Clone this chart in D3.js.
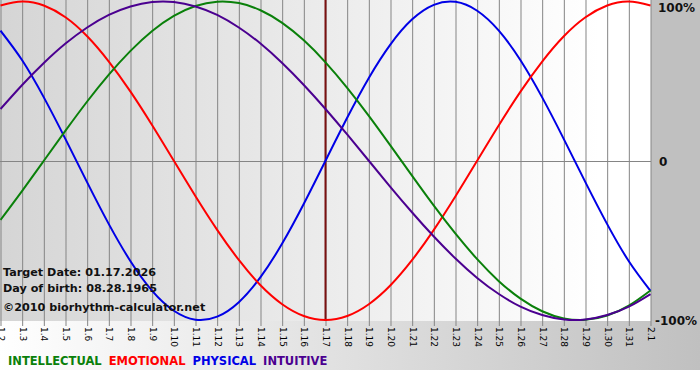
<!DOCTYPE html>
<html lang="en">
<head>
<meta charset="UTF-8">
<title>Biorhythm</title>
<script src="https://cdn.jsdelivr.net/npm/d3@7"></script>
<style>
  body { margin: 0; background: #fff; }
  svg { display: block; font-family: "DejaVu Sans", Verdana, sans-serif; }
</style>
</head>
<body>
<script>
// days shown (month.day)
var days = ["1.2","1.3","1.4","1.5","1.6","1.7","1.8","1.9","1.10","1.11","1.12","1.13","1.14","1.15","1.16",
            "1.17","1.18","1.19","1.20","1.21","1.22","1.23","1.24","1.25","1.26","1.27","1.28","1.29","1.30","1.31","2.1"];

// cycle values, one per day (-1 .. 1)
var intellectual = [-0.372,-0.189,0,0.189,0.372,0.541,0.690,0.815,0.910,0.972,0.999,0.990,0.945,0.866,0.756,
                    0.618,0.458,0.282,0.095,-0.095,-0.282,-0.458,-0.618,-0.756,-0.866,-0.945,-0.990,-0.999,-0.972,-0.910,-0.815];
var emotional = [0.975,1,0.975,0.901,0.782,0.623,0.434,0.223,0,-0.223,-0.434,-0.623,-0.782,-0.901,-0.975,
                 -1,-0.975,-0.901,-0.782,-0.623,-0.434,-0.223,0,0.223,0.434,0.623,0.782,0.901,0.975,1,0.975];
var physical = [0.817,0.631,0.398,0.136,-0.136,-0.398,-0.631,-0.817,-0.942,-0.998,-0.979,-0.888,-0.731,-0.520,-0.270,
                0,0.270,0.520,0.731,0.888,0.979,0.998,0.942,0.817,0.631,0.398,0.136,-0.136,-0.398,-0.631,-0.817];
var intuitive = [0.325,0.476,0.614,0.736,0.837,0.916,0.969,0.997,0.997,0.969,0.916,0.837,0.736,0.614,0.476,
                 0.325,0.165,0,-0.165,-0.325,-0.476,-0.614,-0.736,-0.837,-0.916,-0.969,-0.997,-0.997,-0.969,-0.916,-0.837];

var seriesNames = ["INTELLECTUAL","EMOTIONAL","PHYSICAL","INTUITIVE"];
var yTicks = [1, 0, -1];
var yTickLabels = ["100%", "0", "-100%"];
var targetDay = "1.17";
var infoLines = ["Target Date: 01.17.2026", "Day of birth: 08.28.1965", "\u00a92010 biorhythm-calculator.net"];

var ancho = 700, alto = 380;
var plotW = 651, plotH = 321;
var colores = {INTELLECTUAL: "#0a800a", EMOTIONAL: "#ff0000", PHYSICAL: "#0000e6", INTUITIVE: "#4b0090"};
var valores = {INTELLECTUAL: intellectual, EMOTIONAL: emotional, PHYSICAL: physical, INTUITIVE: intuitive};

var svg = d3.select("body").append("svg")
    .attr("width", ancho).attr("height", alto);

var defs = svg.append("defs");
var gPlot = defs.append("linearGradient").attr("id", "gPlot");
gPlot.append("stop").attr("offset", "0%").attr("stop-color", "#d5d5d5");
gPlot.append("stop").attr("offset", "92%").attr("stop-color", "#ffffff");
var gBottom = defs.append("linearGradient").attr("id", "gBottom");
gBottom.append("stop").attr("offset", "0%").attr("stop-color", "#ffffff");
gBottom.append("stop").attr("offset", "100%").attr("stop-color", "#c0c0c0");

// backgrounds
svg.append("rect").attr("x", 0).attr("y", plotH).attr("width", ancho).attr("height", 49).attr("fill", "url(#gBottom)");
svg.append("rect").attr("x", plotW).attr("y", 0).attr("width", ancho - plotW).attr("height", plotH).attr("fill", "#c0c0c0");
svg.append("rect").attr("x", 0).attr("y", 0).attr("width", plotW).attr("height", plotH).attr("fill", "url(#gPlot)");

var x = d3.scaleLinear().domain([0, days.length - 1]).range([0.5, plotW - 0.5]);
var y = d3.scaleLinear().domain([-1, 1]).range([320, 1.5]);

// vertical grid + ticks
var ejeX = d3.axisBottom(x)
    .tickValues(d3.range(days.length))
    .tickFormat(function(i) { return days[i]; })
    .tickSize(plotH + 5)
    .tickSizeOuter(0);
var gx = svg.append("g").call(ejeX);
gx.select(".domain").remove();
gx.selectAll(".tick line").attr("stroke", "#858585");
gx.selectAll(".tick text")
    .attr("transform", function() { return "translate(0," + (plotH + 6) + ") rotate(90)"; })
    .attr("x", 0).attr("y", 0).attr("dy", "0.35em")
    .attr("text-anchor", "start")
    .attr("font-size", 9)
    .attr("font-family", "DejaVu Sans, sans-serif")
    .attr("fill", "#000");

// zero line
svg.append("line").attr("x1", 0).attr("x2", plotW).attr("y1", Math.round(y(0)) + 0.5).attr("y2", Math.round(y(0)) + 0.5)
    .attr("stroke", "#858585");

// right labels
svg.selectAll(".ylab").data(yTicks).enter().append("text")
    .attr("x", function(d) { return d === 0 ? 659 : (d > 0 ? 658 : 655); })
    .attr("y", function(d) { return y(d); })
    .attr("dy", function(d) { return d > 0 ? "0.85em" : "0.4em"; })
    .attr("font-size", 12).attr("font-weight", "bold").attr("fill", "#111")
    .text(function(d, i) { return yTickLabels[i]; });

// target day line
var ti = days.indexOf(targetDay);
svg.append("line").attr("x1", x(ti)).attr("x2", x(ti)).attr("y1", 0).attr("y2", plotH)
    .attr("stroke", "#7a1010").attr("stroke-width", 2);

// curves
var linea = d3.line()
    .x(function(d, i) { return x(i); })
    .y(function(d) { return y(d); })
    .curve(d3.curveNatural);
["PHYSICAL", "EMOTIONAL", "INTELLECTUAL", "INTUITIVE"].forEach(function(n) {
  svg.append("path").datum(valores[n])
    .attr("d", linea)
    .attr("fill", "none")
    .attr("stroke", colores[n])
    .attr("stroke-width", 2);
});

// info text
svg.selectAll(".info").data(infoLines).enter().append("text")
    .attr("x", 3)
    .attr("y", function(d, i) { return [276, 292, 311][i]; })
    .attr("font-size", 11.2).attr("font-weight", "bold").attr("fill", "#111")
    .text(function(d) { return d; });

// legend
var leyenda = svg.append("text").attr("x", 8).attr("y", 365)
    .attr("font-size", 11.5).attr("font-weight", "bold").attr("word-spacing", 3);
seriesNames.forEach(function(n, i) {
  leyenda.append("tspan").attr("fill", colores[n]).text((i ? " " : "") + n);
});
</script>
</body>
</html>
